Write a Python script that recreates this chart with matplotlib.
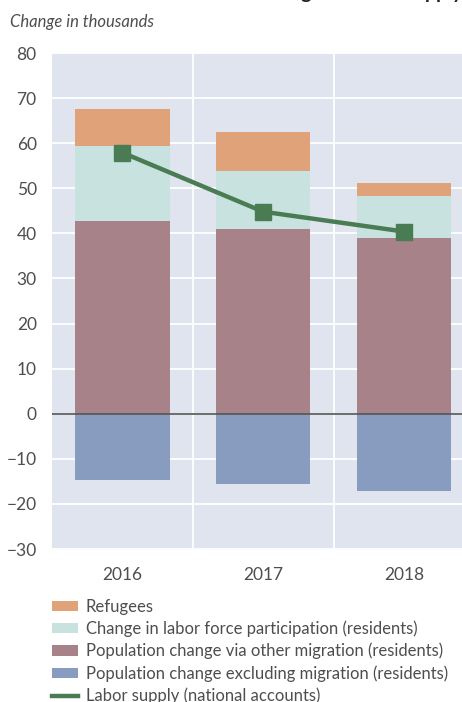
import matplotlib
matplotlib.use("Agg")
import matplotlib.pyplot as plt
from matplotlib.patches import Patch
from matplotlib.lines import Line2D
import numpy as np

years = ["2016", "2017", "2018"]
pop_excl_migration = [-14.6, -15.5, -17.2]
pop_other_migration = [42.8, 41.0, 39.0]
labor_force_part = [16.6, 12.9, 9.3]
refugees = [8.2, 8.6, 2.9]
labor_supply = [57.9, 44.8, 40.4]

series_labels = [
    "Refugees",
    "Change in labor force participation (residents)",
    "Population change via other migration (residents)",
    "Population change excluding migration (residents)",
    "Labor supply (national accounts)",
]
yticks = [80, 70, 60, 50, 40, 30, 20, 10, 0, -10, -20, -30]

c_ref = "#E0A278"
c_lfp = "#C8E2DF"
c_mig = "#A78289"
c_exc = "#889CBF"
c_line = "#4A7C54"
bg = "#E0E4EF"
tc = "#4E4E4E"

plt.rcParams['font.family'] = ['Lato', 'DejaVu Sans']

fig = plt.figure(figsize=(4.62, 7.02), dpi=100)
ax = fig.add_axes([52/462, 153/702, 422.5/462, 496/702])
ax.set_facecolor(bg)

x = np.arange(len(years))
w = 0.67
ax.bar(x, pop_excl_migration, w, color=c_exc, zorder=2)
ax.bar(x, pop_other_migration, w, color=c_mig, zorder=2)
b2 = np.array(pop_other_migration)
ax.bar(x, labor_force_part, w, bottom=b2, color=c_lfp, zorder=2)
b3 = b2 + np.array(labor_force_part)
ax.bar(x, refugees, w, bottom=b3, color=c_ref, zorder=2)
ax.plot(x, labor_supply, color=c_line, lw=3.2, marker='s', markersize=11, zorder=4)
ax.axhline(0, color="#555555", lw=1.2, zorder=3)

ax.set_xlim(-0.5, 2.5)
ax.set_ylim(-30, 80)
ax.set_yticks(yticks)
ax.set_xticks(x)
ax.set_xticklabels(years)
ax.grid(False)
for yv in yticks:
    ax.axhline(yv, color="white", lw=1.3, zorder=1)
for xv in [0.5, 1.5]:
    ax.axvline(xv, color="white", lw=1.3, zorder=1)
for s in ax.spines.values():
    s.set_visible(False)
ax.tick_params(axis='both', which='both', length=0, labelsize=12.5, labelcolor=tc)
ax.tick_params(axis='y', pad=11)
ax.tick_params(axis='x', pad=13)

fig.text(10/462, 1 - 22/702, "Change in thousands", fontsize=12, style='italic',
         color=tc, va='center', ha='left')
fig.text(462/462, 1 + 6/702, "Changes in labor supply", fontsize=14, weight='bold',
         color="#222222", va='center', ha='right')

handles = [
    Patch(facecolor=c_ref),
    Patch(facecolor=c_lfp),
    Patch(facecolor=c_mig),
    Patch(facecolor=c_exc),
    Line2D([0], [0], color=c_line, lw=3.2),
]
leg = fig.legend(handles, series_labels, loc='upper left',
                 bbox_to_anchor=(45/462, 1 - 592/702), frameon=False,
                 fontsize=12, labelcolor=tc, handlelength=1.6, handleheight=0.6,
                 handletextpad=0.45, labelspacing=0.35, borderaxespad=0)

fig.savefig("out.png", dpi=100)
